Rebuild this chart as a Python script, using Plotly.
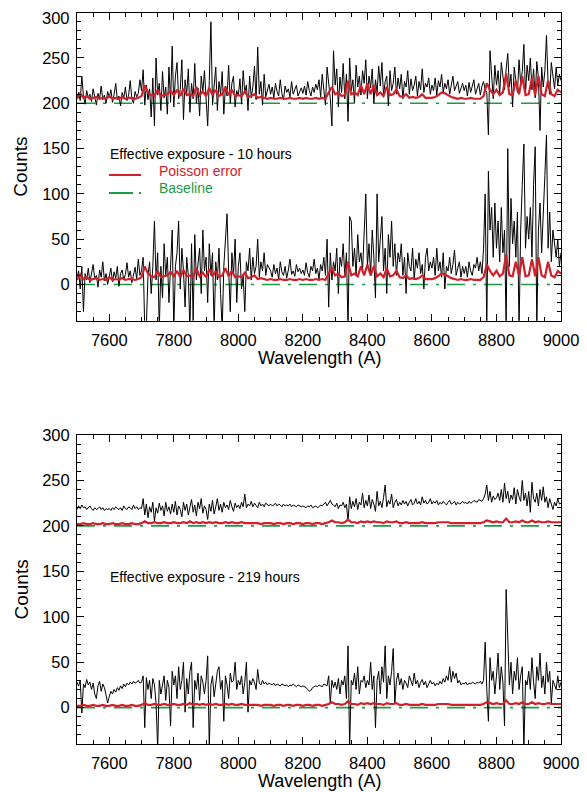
import plotly.graph_objects as go

# ---------------- data ----------------
WL_START = 7500.0
WL_STEP = 5.0        # sampling of the spectra
ERR_STEP = 10.0      # sampling of the Poisson-error curves
baseline_levels = [0, 200]

# Panel 1 : effective exposure 10 h
t10_upper = [
    205, 212, 203, 230, 208, 199, 214, 206, 210, 202, 216, 207, 198, 211, 205, 219, 204, 209, 200, 213,
    206, 215, 201, 210, 222, 204, 208, 197, 212, 206, 218, 203, 209, 225, 205, 200, 213, 207, 211, 226,
    214, 237, 198, 220, 204, 216, 185, 228, 175, 250, 209, 222, 192, 235, 206, 218, 188, 240, 201, 263,
    196, 230, 245, 205, 215, 248, 182, 226, 210, 238, 190, 222, 205, 244, 200, 217, 186, 230, 212, 236,
    203, 175, 225, 290, 198, 216, 240, 192, 224, 210, 235, 188, 219, 208, 242, 200, 222, 230, 196, 214,
    208, 227, 199, 236, 212, 220, 192, 230, 206, 218, 241, 204, 262, 210, 224, 198, 232, 207, 215, 221,
    210, 218, 206, 222, 213, 208, 226, 211, 204, 219, 212, 216, 207, 224, 210, 214, 220, 208, 213, 217,
    211, 219, 209, 224, 214, 208, 218, 212, 221, 215, 226, 207, 232, 218, 198, 240, 225, 205, 175, 258,
    220, 238, 196, 229, 212, 244, 205, 232, 180, 250, 214, 226, 200, 242, 218, 230, 209, 236, 222, 248,
    205, 230, 217, 238, 200, 226, 212, 241, 219, 245, 208, 224, 230, 197, 236, 214, 222, 240, 210, 228,
    216, 232, 205, 224, 218, 236, 210, 227, 214, 220, 230, 208, 224, 215, 238, 212, 222, 218, 228, 210,
    220, 214, 228, 209, 225, 218, 232, 212, 222, 216, 226, 210, 220, 230, 214, 219, 224, 211, 218, 222,
    214, 220, 208, 223, 212, 218, 226, 210, 216, 222, 209, 219, 224, 215, 212, 165, 258, 230, 205, 242,
    220, 236, 210, 245, 228, 215, 238, 255, 218, 232, 196, 240, 225, 212, 248, 222, 235, 265, 210, 242,
    225, 250, 215, 238, 206, 246, 228, 170, 240, 218, 236, 275, 222, 210, 245, 228, 216, 240, 220, 232,
    225,
]
t10_lower = [
    8, 15, -5, 20, -30, 12, 5, 18, 2, 14, 22, 6, 10, -3, 16, 8, 25, 4, 12, 0,
    10, 18, 3, 14, 7, 20, -2, 12, 16, 5, 11, 24, 8, 15, 2, 13, 19, 6, 28, 10,
    15, 30, -50, -45, 10, 25, -10, 20, 70, 5, 35, -50, 20, -15, 45, 10, 30, -20, 25, 60,
    -50, 20, 35, 70, -5, 40, 15, -25, 30, 10, -50, 45, -40, 55, 5, 25, 40, -10, 60, 15,
    30, -20, 45, 10, 35, -50, 25, 5, 40, -10, -50, 20, 50, 78, 15, -30, 35, 10, 50, -20,
    20, 35, -5, 10, -30, 25, 15, 40, 5, 30, 12, 20, 50, 8, 25, 15, 35, 10, 22, 18,
    15, 8, 22, 12, 18, 5, 25, 14, 10, 20, 7, 16, 28, 11, 15, 9, 22, 14, 18, 12,
    16, 10, 24, 13, 8, 20, 15, 28, 12, 18, 6, 22, 15, 30, 10, 50, -25, 35, 5, 25,
    15, 40, -10, 30, 20, 45, 8, 35, -50, 75, 70, 20, 40, 10, 55, 25, 35, 15, 60, 100,
    20, 45, 10, 60, 30, -15, 100, 25, 50, 75, 15, 40, -10, 55, 30, 70, 20, 45, 10, 35,
    25, 45, 10, 30, -10, 35, 20, 15, 40, 5, 28, 18, 35, 12, 22, -5, 30, 40, 15, 25,
    18, 30, 10, 40, 15, 25, 8, 35, -5, 20, 15, 30, 12, 22, 38, 10, 18, 25, 8, 20,
    12, 20, 8, 25, 15, 10, 22, 18, 30, 15, 25, 12, 40, 100, -50, 125, 60, 85, 30, 90,
    40, 70, 25, 85, 35, 60, -50, 150, 20, 95, 45, 70, 30, 80, -50, 60, 110, 155, 40, 75,
    50, 85, 30, 110, 152, -50, 60, 90, 35, 70, 120, 165, 40, 80, 25, 60, 45, 30, 50, 20,
    35,
]
t10_err = [
    5, 11, 6, 8, 5, 6, 7, 5, 6, 5,
    8, 5, 6, 5, 7, 5, 6, 6, 5, 6,
    8, 20, 12, 9, 8, 15, 8, 9, 10, 14,
    9, 15, 8, 16, 9, 10, 8, 18, 9, 13,
    8, 17, 9, 15, 8, 10, 18, 9, 15, 8,
    9, 8, 13, 7, 8, 10, 6, 7, 6, 5,
    6, 5, 5, 6, 5, 5, 6, 5, 5, 6,
    5, 6, 5, 5, 6, 5, 6, 5, 12, 18,
    10, 12, 8, 9, 25, 10, 12, 9, 20, 10,
    22, 10, 20, 9, 12, 8, 18, 9, 10, 15,
    8, 7, 10, 6, 7, 6, 7, 10, 6, 6,
    6, 7, 9, 12, 11, 9, 7, 6, 5, 6,
    5, 5, 6, 5, 5, 5, 8, 22, 15, 10,
    15, 9, 12, 33, 10, 9, 25, 10, 30, 9,
    10, 28, 9, 30, 10, 8, 25, 10, 8, 15,
    12,
]

# Panel 2 : effective exposure 219 h
t219_upper = [
    218, 222, 219, 223, 220, 221, 218, 220, 222, 219, 217, 220, 218, 219, 221, 218, 220, 217, 219, 218,
    219, 217, 220, 218, 221, 219, 218, 220, 217, 222, 219, 218, 221, 220, 218, 223, 219, 221, 218, 220,
    219, 230, 212, 224, 209, 221, 215, 226, 205, 220, 214, 225, 217, 222, 211, 226, 216, 221, 213, 224,
    215, 227, 212, 222, 218, 210, 226, 217, 224, 212, 220, 229, 215, 223, 211, 226, 219, 230, 214, 222,
    218, 207, 224, 216, 228, 213, 221, 230, 217, 224, 215, 226, 220, 223, 218, 228, 221, 216, 225, 220,
    223, 219, 226, 221, 235, 220, 224, 222, 227, 221, 225, 223, 220, 226, 222, 224, 221, 225, 223, 222,
    224, 222, 223, 225, 222, 224, 223, 221, 224, 222, 223, 222, 224, 221, 223, 222, 221, 223, 222, 221,
    222, 221, 220, 222, 221, 223, 220, 221, 222, 220, 221, 223, 222, 224, 226, 222, 225, 228, 224, 223,
    221, 225, 219, 223, 222, 226, 220, 224, 205, 232, 219, 227, 221, 230, 218, 226, 223, 236, 220, 228,
    222, 234, 219, 229, 224, 216, 238, 222, 227, 220, 231, 245, 221, 228, 224, 235, 220, 226, 229, 222,
    226, 223, 228, 224, 227, 222, 226, 229, 223, 225, 230, 224, 227, 223, 232, 225, 228, 224, 226, 230,
    224, 227, 225, 228, 223, 226, 224, 227, 225, 223, 226, 228, 224, 225, 227, 223, 226, 224, 225, 227,
    225, 226, 224, 227, 225, 226, 228, 227, 226, 229, 228, 227, 230, 235, 245, 228, 238, 226, 233, 229,
    231, 236, 228, 240, 226, 247, 230, 238, 225, 234, 229, 242, 224, 240, 232, 227, 250, 228, 236, 222,
    238, 215, 248, 230, 226, 236, 222, 240, 228, 243, 226, 232, 220, 230, 224, 218, 226, 222, 230, 224,
    225,
]
t219_lower = [
    28, 24, 30, -6, 26, 22, 31, 25, 28, 20, 27, 15, 10, 24, 29, 18, 26, 22, 14, 5,
    12, 18, 15, 20, 17, 22, 19, 24, 21, 26, 23, 27, 25, 28, 26, 29, 27, 28, 30, 27,
    28, 35, -22, 33, 20, 30, 10, 32, 25, 5, -45, 30, 15, 28, 35, 8, 30, 22, -20, 40,
    25, 35, 10, 45, 20, 30, 50, -5, 32, 15, 40, 50, -22, 30, 20, 38, 8, 35, 28, 15,
    30, 57, -45, 25, 35, 12, 28, 40, 45, 20, 30, -15, 35, 25, 10, 38, 28, 30, 50, 20,
    30, 25, 35, 15, 28, 50, -5, 30, 25, 32, 28, 20, 42, 27, 25, 30, 26, 28, 25, 27,
    26, 25, 27, 24, 26, 25, 24, 26, 25, 24, 25, 23, 25, 24, 26, 24, 23, 25, 24, 23,
    24, 23, 22, 20, 18, 19, 22, 23, 24, 23, 25, 24, 23, 26, 25, 24, 35, 5, 30, 22,
    28, 20, 32, 15, 30, 25, 35, 10, 68, -45, 30, 25, 38, 20, 45, 15, 30, 28, 35, 22,
    30, 25, 50, 20, 35, -22, 30, 40, 15, 45, 28, 68, 10, 35, 25, 40, 65, 5, 30, 38,
    25, 32, 20, 30, 27, 22, 35, 28, 24, 38, 26, 30, 22, 28, 31, 25, 29, 22, 27, 30,
    26, 28, 24, 27, 25, 29, 26, 32, 28, 35, 30, 45, 28, 40, 32, 38, 27, 30, 25, 27,
    26, 28, 25, 27, 26, 28, 27, 26, 28, 27, 29, 26, 30, 72, 20, -15, 55, 30, 40, 15,
    35, 60, 20, 45, 28, -20, 130, 85, 25, 50, 15, 40, 30, 55, 20, 35, 45, -45, 30, 25,
    40, 20, 55, 28, 10, 45, 30, 60, 22, 35, 15, 50, 28, 40, 5, 30, 25, 20, 35, 22,
    28,
]
t219_err = [
    2, 2, 3, 2, 2, 3, 2, 2, 3, 2,
    2, 3, 2, 2, 3, 2, 2, 3, 2, 2,
    3, 5, 3, 3, 4, 3, 3, 4, 3, 3,
    4, 3, 3, 4, 3, 5, 3, 4, 3, 4,
    3, 4, 3, 4, 3, 3, 4, 3, 4, 3,
    3, 4, 3, 3, 3, 3, 3, 2, 3, 3,
    3, 2, 3, 3, 2, 3, 3, 2, 3, 3,
    2, 3, 3, 2, 3, 3, 2, 3, 4, 6,
    4, 4, 3, 4, 7, 4, 4, 3, 5, 4,
    5, 4, 5, 4, 4, 3, 5, 4, 4, 5,
    3, 3, 4, 3, 3, 3, 3, 4, 3, 3,
    3, 3, 4, 4, 4, 4, 3, 3, 3, 3,
    3, 3, 3, 3, 3, 3, 4, 6, 5, 4,
    5, 4, 4, 8, 4, 4, 5, 4, 6, 4,
    4, 6, 4, 5, 4, 4, 5, 4, 4, 4,
    4,
]

x_tickvals = [7600, 7800, 8000, 8200, 8400, 8600, 8800, 9000]
y_tickvals = [0, 50, 100, 150, 200, 250, 300]
y_ticktext = ["0", "50", "100", "150", "200", "250", "300"]
x_range = [7500, 9000]
y_range = [-40, 300]

# ---------------- styling ----------------
W, H = 587, 792
PAGE_MARGIN = 8          # default body margin of the HTML page
FONT = "Liberation Sans, Arial, Helvetica, sans-serif"
BLACK = "#000000"
RED = "#d0202a"
GREEN = "#1e9a44"
DASH = "18px,8px,3px,8px"
TICK_SIZE = 16.5


def wl(series, step):
    return [WL_START + step * i for i in range(len(series))]


def px(x):
    """screen pixel -> paper fraction"""
    return (x - PAGE_MARGIN) / W


def py(y):
    return 1 - (y - PAGE_MARGIN) / H


fig = go.Figure()

panels = [
    ("x", "y", t10_upper, t10_lower, t10_err),
    ("x2", "y2", t219_upper, t219_lower, t219_err),
]
for xa, ya, upper, lower, err in panels:
    for lvl in baseline_levels:
        fig.add_trace(go.Scatter(x=x_range, y=[lvl, lvl], mode="lines",
                                 line=dict(color=GREEN, width=1.6, dash=DASH),
                                 xaxis=xa, yaxis=ya, hoverinfo="skip"))
    fig.add_trace(go.Scatter(x=wl(upper, WL_STEP), y=upper, mode="lines",
                             line=dict(color=BLACK, width=1),
                             xaxis=xa, yaxis=ya))
    fig.add_trace(go.Scatter(x=wl(lower, WL_STEP), y=lower, mode="lines",
                             line=dict(color=BLACK, width=1),
                             xaxis=xa, yaxis=ya))
    for lvl in baseline_levels:
        fig.add_trace(go.Scatter(x=wl(err, ERR_STEP), y=[lvl + e for e in err], mode="lines",
                                 line=dict(color=RED, width=2.2),
                                 xaxis=xa, yaxis=ya))

x_dom = [px(77), px(561)]
axis_common = dict(
    showline=True, linecolor=BLACK, linewidth=1, mirror="allticks",
    ticks="inside", ticklen=7, tickwidth=1, tickcolor=BLACK,
    showgrid=False, zeroline=False, automargin=False,
    ticklabeloverflow="allow",
    tickfont=dict(family=FONT, size=TICK_SIZE, color=BLACK),
)
xaxis_cfg = dict(axis_common, range=x_range, tickvals=x_tickvals, domain=x_dom,
                 ticklabelstandoff=4,
                 minor=dict(ticks="inside", ticklen=4, dtick=50, tickcolor=BLACK, showgrid=False))
yaxis_cfg = dict(axis_common, range=y_range, tickvals=y_tickvals, ticklabelstandoff=3,
                 minor=dict(ticks="inside", ticklen=4, dtick=10, tickcolor=BLACK, showgrid=False))

# top panel: the top label sits just under the frame (as in the reference), so it is
# written as a separate text below
top_ticktext = y_ticktext[:-1] + [""]

fig.update_layout(
    width=W, height=H,
    margin=dict(l=0, r=0, t=0, b=0, autoexpand=False),
    paper_bgcolor="white", plot_bgcolor="white",
    showlegend=False,
    xaxis=dict(xaxis_cfg, anchor="y"),
    yaxis=dict(yaxis_cfg, anchor="x", domain=[py(320.7), py(12.7)], ticktext=top_ticktext),
    xaxis2=dict(xaxis_cfg, anchor="y2"),
    yaxis2=dict(yaxis_cfg, anchor="x2", domain=[py(744), py(435)], ticktext=y_ticktext),
)

ann = []
ann.append(dict(text=y_ticktext[-1], x=px(72), y=py(18), xref="paper", yref="paper",
                showarrow=False, font=dict(family=FONT, size=TICK_SIZE, color=BLACK),
                xanchor="right", yanchor="middle"))
for yc in (357.5, 780.5):
    ann.append(dict(text="Wavelength (A)", x=px(319), y=py(yc), xref="paper", yref="paper",
                    showarrow=False, font=dict(family=FONT, size=18, color=BLACK),
                    xanchor="center", yanchor="middle"))
for yc in (166.7, 589.5):
    ann.append(dict(text="Counts", x=px(21), y=py(yc), xref="paper", yref="paper",
                    showarrow=False, textangle=-90, font=dict(family=FONT, size=19, color=BLACK),
                    xanchor="center", yanchor="middle"))
legend_font = 14
ann.append(dict(text="Effective exposure - 10 hours", x=px(108), y=py(153.5), xref="paper", yref="paper",
                showarrow=False, font=dict(family=FONT, size=legend_font, color=BLACK),
                xanchor="left", yanchor="middle"))
ann.append(dict(text="Poisson error", x=px(157), y=py(170.7), xref="paper", yref="paper",
                showarrow=False, font=dict(family=FONT, size=legend_font, color=RED),
                xanchor="left", yanchor="middle"))
ann.append(dict(text="Baseline", x=px(157), y=py(188.3), xref="paper", yref="paper",
                showarrow=False, font=dict(family=FONT, size=legend_font, color=GREEN),
                xanchor="left", yanchor="middle"))
ann.append(dict(text="Effective exposure - 219 hours", x=px(108), y=py(576.7), xref="paper", yref="paper",
                showarrow=False, font=dict(family=FONT, size=legend_font, color=BLACK),
                xanchor="left", yanchor="middle"))
fig.update_layout(annotations=ann)

fig.add_shape(type="line", xref="paper", yref="paper", x0=px(109), x1=px(141), y0=py(175), y1=py(175),
              line=dict(color=RED, width=2))
fig.add_shape(type="line", xref="paper", yref="paper", x0=px(109), x1=px(141), y0=py(193), y1=py(193),
              line=dict(color=GREEN, width=2, dash="24px,6px,3px,20px"))

fig.write_html("out.html")
